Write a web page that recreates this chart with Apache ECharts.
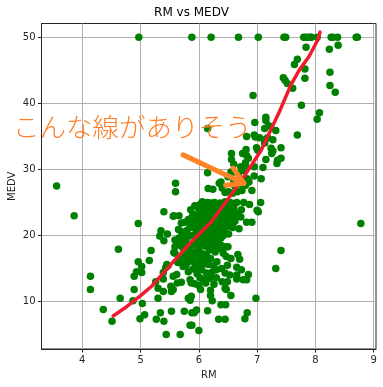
<!DOCTYPE html>
<html><head><meta charset="utf-8">
<style>html,body{margin:0;padding:0;background:#fff}#c{width:383px;height:387px}</style>
<script src="https://cdn.jsdelivr.net/npm/echarts@6/dist/echarts.min.js"></script>
</head><body><div id="c"></div>
<script>
const topRow=[[4.97,50],[5.88,50],[6.21,50],[6.68,50],[7.02,50],[7.46,50],[7.49,50],[7.8,50],[7.83,50],[7.88,50],[7.92,50],[7.93,50],[8.03,50],[8.27,50],[8.3,50],[8.38,50],[8.7,50],[8.72,50]];
const upperPoints=[[7.84,48.5],[8.24,48.2],[8.39,48.8],[7.69,46.7],[7.64,45.9],[7.82,45.2],[8.25,44.7],[7.82,43.8],[7.45,43.9],[7.48,43.5],[7.52,43],[7.61,42.3],[8.25,42.7],[8.34,41.7],[6.93,41.2],[7.76,39.7],[8.07,38.6],[8.03,37.6],[7.69,35.2],[7.15,37.9],[7.15,37.4],[6.96,37.1],[7.13,36.2],[7.2,36.6],[7.32,35.9],[6.15,36.2],[6.82,35],[6.95,35.2],[7.04,34.8],[7.18,34.8],[7.27,34.5],[7.13,34.5],[6.97,34.9],[7.41,33.3],[6.99,33.3],[7.01,32.9],[6.81,33],[7.24,33.2],[7.27,32.8],[7.25,32.4],[7.13,34],[6.56,32.4],[6.75,32.4],[6.82,32.1],[6.85,31.7],[6.8,31],[6.56,31.5],[6.6,30.8],[7.15,31.5],[7.41,31.7],[7.35,31.4],[7.34,30.9],[6.72,30.4],[6.8,30.4],[6.95,30.4],[7.1,30.3],[6.15,29.5],[6.38,28.1],[6.35,27.9],[6.5,28.9],[6.55,29.6],[6.6,29.6],[6.68,29.4],[7.07,28.6],[6.95,29],[6.83,28.6],[6.86,28.1],[6.8,27.6],[6.91,26.8],[6.74,26.8],[6.51,26.6],[6.16,27.1],[6.24,27],[5.6,27.9],[5.6,26.6],[6.6,28.3],[6.7,28.5],[6.62,27.5],[6.72,27.8],[6.58,26.4],[6.45,26.5],[6.4,27.2],[6.66,26.6],[6.78,29.8]];
const lowerPoints=[[3.56,27.5],[3.86,23],[4.96,21.8],[5.4,23.6],[5.56,22.9],[5.57,23],[5.66,23],[5.35,20.7],[5.33,19.9],[5.4,19.2],[5.46,20.2],[4.62,17.9],[5.18,17.7],[5.15,16.2],[4.96,16],[5.02,15.3],[4.93,14.5],[5.02,14.4],[4.89,13.8],[4.14,13.8],[4.14,11.8],[4.89,11.8],[4.65,10.5],[4.87,10.1],[5.03,9.7],[4.36,8.8],[4.51,7],[4.99,7.4],[5.07,8],[5.34,8.3],[5.27,7.3],[5.4,7],[5.53,8.5],[5.75,8.5],[5.88,8.3],[5.85,6.4],[5.44,5],[5.68,5],[5.3,10.5],[5.39,11.5],[5.3,12],[5.26,13],[5.39,13.4],[5.39,14.4],[5.45,15.6],[5.43,15.1],[5.47,15.4],[5.52,12.3],[5.53,11.5],[5.56,11.8],[5.56,13.8],[5.62,14.1],[5.63,12.8],[5.7,12.9],[5.82,14.5],[5.73,15.3],[5.85,13.3],[5.87,12.8],[5.82,10.5],[5.85,10.2],[5.87,10.8],[5.59,17.3],[5.57,17.4],[5.65,20.9],[5.59,19.3],[5.59,18.3],[5.75,17.8],[5.7,21.9],[5.76,22],[5.82,22.4],[5.86,23.9],[5.87,22.6],[8.78,21.8],[7.41,17.7],[7.32,15],[6.98,10.5],[6.83,8.3],[6.79,7.4],[6,5.6],[6.45,7.3],[6.34,7.3],[6.15,8.6],[5.96,8.7],[5.92,8.3],[5.88,6.4],[6.38,9.5],[6.46,9.5],[6.55,10.9],[6.23,10.1],[6.2,10.9],[6.2,11.7],[6.03,11.8],[6.26,12.6],[6.45,12],[6.4,13],[6.49,13],[6.47,11.8],[6.85,14.1],[6.73,14.8],[6.65,15.2],[6.7,16.4],[6.67,17.1],[6.76,13.3],[6.82,13.3],[6.65,13.4],[6.65,14],[6.53,14],[6.45,14.3],[6.39,15],[6.3,14.8],[6.49,15.5],[6.55,16.5],[6.47,16.8],[6.42,17.3],[6.45,18.3],[6.5,18.3],[6.51,20.2],[6.31,16],[6.16,15.6],[6.13,14.3],[6.05,14.8],[6.08,13.3],[6.16,13.8],[6.19,13.5],[5.94,15.7],[6.03,17.3],[5.97,17.3],[6.13,17],[6.27,18.3],[6.21,18],[6.69,21],[6.82,22],[6.91,22],[7,23.8],[7.02,23.6],[7.06,25],[6.87,24.7],[6.77,25],[6.65,25],[6.73,23.9],[6.72,22.8],[6.6,22]];
const blobPoints=[[5.62,18.5],[5.68,18.9],[5.72,18.2],[5.66,19.6],[5.72,19.9],[5.75,20.3],[5.7,20.6],[5.78,19.2],[5.8,18.6],[5.85,18.2],[5.82,17.1],[5.78,16.5],[5.72,16.8],[5.68,16.1],[5.64,15.9],[5.78,15.5],[5.9,16.6],[5.88,17.5],[5.92,18.7],[5.95,19.4],[5.9,20],[5.84,19.9],[5.8,20.8],[5.85,21.2],[5.92,21.5],[5.98,20.8],[6.02,19.6],[6.05,18.8],[6.0,18.1],[6.1,18.4],[6.15,19.2],[6.12,20],[6.06,20.5],[6.03,21.3],[5.98,22],[5.93,22.7],[5.97,23.1],[5.9,23.2],[5.93,24.5],[6.0,24],[6.05,22.9],[6.02,24.7],[6.08,24.2],[6.1,23.3],[6.12,22.2],[6.1,21.6],[6.15,21],[6.2,20.4],[6.25,19.8],[6.3,19.3],[6.22,19],[6.33,18.9],[6.38,19.6],[6.42,20],[6.35,20.6],[6.3,21.1],[6.25,21.7],[6.2,22.4],[6.16,23],[6.14,23.8],[6.17,24.4],[6.15,25],[6.2,24.9],[6.23,24.1],[6.26,23.4],[6.3,22.8],[6.35,22],[6.38,21.4],[6.43,20.9],[6.48,21.3],[6.4,22.6],[6.35,23.2],[6.32,24],[6.3,24.7],[6.27,25],[6.33,24.5],[6.38,24.5],[6.41,23.8],[6.44,23],[6.48,22.4],[6.52,21.8],[6.55,22.6],[6.5,23.2],[6.47,24],[6.43,24.8],[6.5,24.6],[6.55,24],[6.58,23.1],[6.6,24.1],[6.63,23.4],[6.54,25],[6.58,24.8],[6.62,22.2],[6.68,23],[6.58,21.2],[6.28,17.5],[6.18,17.8],[6.08,17.2],[6.35,18],[6.38,18.5],[5.95,16.1],[6.02,16.3],[6.1,15.9],[6.2,16.5],[6.25,15.4],[5.97,14.2],[6.02,13.6],[5.9,14.9],[5.93,12.7],[6.0,12.4],[6.12,12.8],[6.3,13.6],[6.22,14.4],[5.98,20.1],[5.88,21.7],[6.28,20.3],[6.18,21.8],[6.08,19.1],[5.97,18.9],[6.22,23.6],[6.28,22.2],[6.12,24.7],[6.06,25.1],[6.36,24.9],[6.45,25.1],[5.94,21],[6.04,22.2],[6.18,20.2],[6.27,20.9],[6.32,21.7],[6.11,19.4],[6.16,18.6],[6.41,21.7],[6.45,22.2],[6.28,23.8],[6.21,23.2],[6.39,23.3],[6.05,23.7],[5.98,17.8],[6.12,16.6],[6.05,15.6],[5.85,16.1],[5.95,15]];
const redLine=[[4.53,7.8],[4.76,9.2],[4.99,10.8],[5.19,12.3],[5.39,14.3],[5.62,16.6],[5.87,19],[6.22,22.1],[6.58,26.5],[6.78,29],[7.07,32.9],[7.24,36.1],[7.38,38.7],[7.58,42.8],[7.72,45],[7.89,47.1],[8.04,49.6],[8.08,50.8]];
const arrowShaft=[[5.73,32.2],[6.77,27.9]];
const arrowHeadA=[[6.59,30.2],[6.77,27.9]];
const arrowHeadB=[[6.46,27.6],[6.77,27.9]];
const xTicks=[4,5,6,7,8,9];
const yTicks=[10,20,30,40,50];
const font='"DejaVu Sans"';
const ink='#262626';
function drawn(data,color,width){return {type:'line',data,symbol:'none',silent:true,z:6,lineStyle:{color,width,cap:'round',join:'round'}};}
const chart=echarts.init(document.getElementById('c'),null,{renderer:'canvas'});
function axisCommon(ticks){return {nameLocation:'middle',nameMoveOverlap:false,nameTextStyle:{color:ink,fontFamily:font,fontSize:10},
 axisLine:{onZero:false,lineStyle:{color:ink,width:1}},axisTick:{show:true,length:3.5,lineStyle:{color:ink},customValues:ticks},
 splitLine:{show:true,lineStyle:{color:'#b0b0b0',width:1}},
 axisLabel:{color:ink,fontFamily:font,fontSize:10,margin:6,customValues:ticks}};}
chart.setOption({animation:false,backgroundColor:'#fff',
 title:{text:'RM vs MEDV',left:'center',top:7,padding:0,textStyle:{color:'#000',fontFamily:font,fontSize:12,fontWeight:'normal'}},
 grid:{left:41.5,right:7,top:23.5,bottom:38,show:true,borderColor:ink,borderWidth:1,containLabel:false,outerBoundsMode:'none'},
 xAxis:{...axisCommon(xTicks),type:'value',name:'RM',nameGap:21,min:3.3,max:9.04},
 yAxis:{...axisCommon(yTicks),type:'value',name:'MEDV',nameGap:24,min:2.8,max:52.1},
 graphic:[{type:'text',z:20,left:13,top:114,style:{text:'こんな線がありそう',fill:'#ff7f2a',font:'300 26.5px "Noto Sans CJK JP"'}}],
 series:[{type:'scatter',symbolSize:7.5,silent:true,z:3,itemStyle:{color:'#008000',opacity:1},data:[...topRow,...upperPoints,...lowerPoints,...blobPoints]},
  drawn(redLine,'#ee1c2e',3.5),drawn(arrowShaft,'#ff8327',5),drawn(arrowHeadA,'#ff8327',5),drawn(arrowHeadB,'#ff8327',5)]
});
</script></body></html>
